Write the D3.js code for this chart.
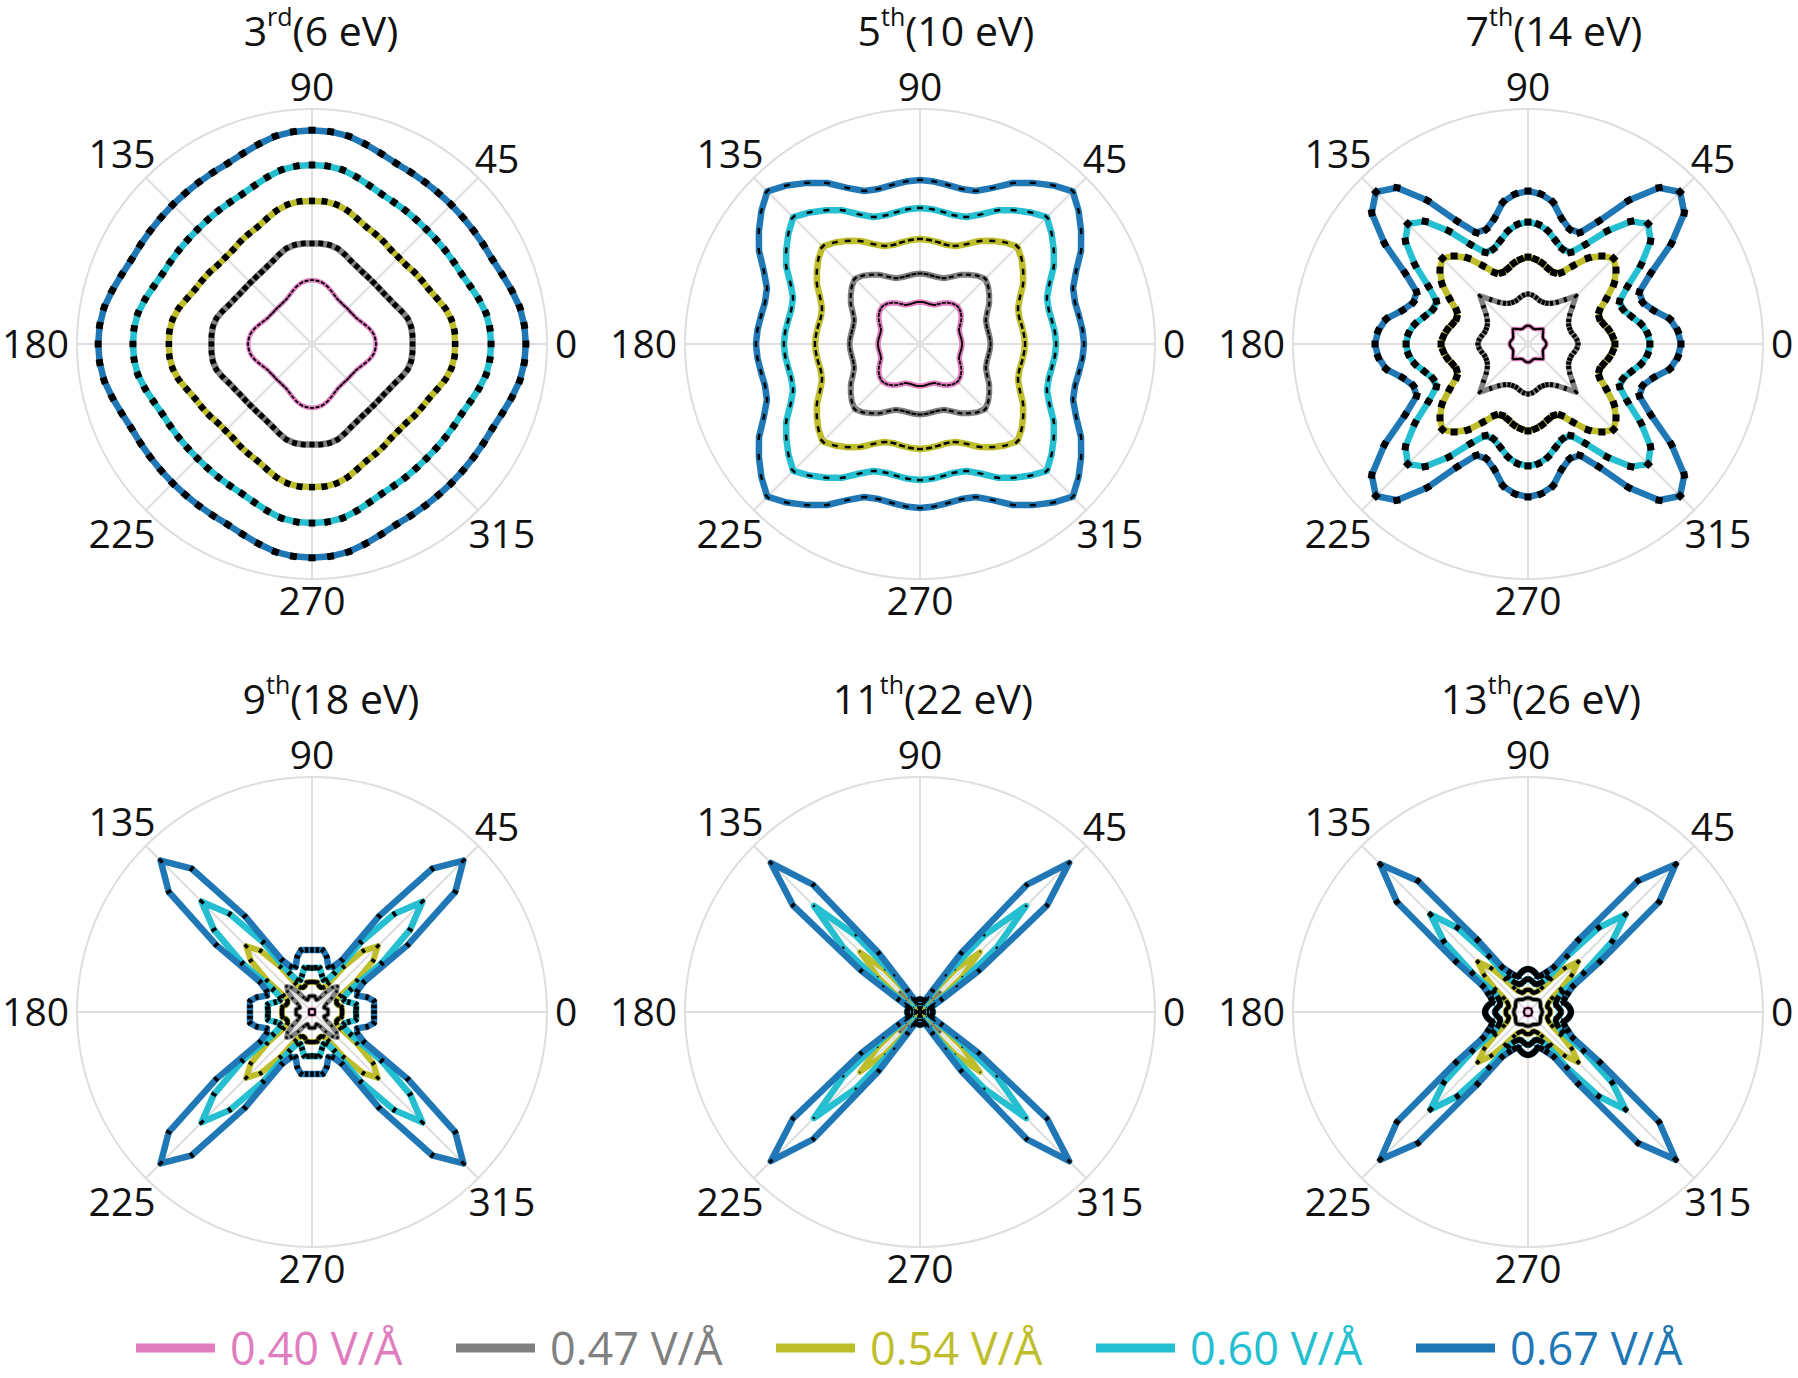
<!DOCTYPE html>
<html><head><meta charset="utf-8">
<script src="https://cdn.jsdelivr.net/npm/d3@7"></script>
<style>
body{margin:0;background:#fff;}
svg{display:block;}
text{font-family:"Open Sans","Noto Sans",sans-serif;}
</style>
</head><body>
<svg id="chart" width="1798" height="1378"></svg>
<script>
// ---------------- DATA ----------------
const angleTicks = [0, 45, 90, 135, 180, 225, 270, 315];
const anglesDeg = [0,5,10,15,20,25,30,35,40,45,50,55,60,65,70,75,80,85,
  90,95,100,105,110,115,120,125,130,135,140,145,150,155,160,165,170,175,
  180,185,190,195,200,205,210,215,220,225,230,235,240,245,250,255,260,265,
  270,275,280,285,290,295,300,305,310,315,320,325,330,335,340,345,350,355];
const fieldLabels = ["0.40 V/Å", "0.47 V/Å", "0.54 V/Å", "0.60 V/Å", "0.67 V/Å"];
const harmonicOrders = ["3", "5", "7", "9", "11", "13"];
const harmonicSuffixes = ["rd", "th", "th", "th", "th", "th"];
const photonEnergies = ["6 eV", "10 eV", "14 eV", "18 eV", "22 eV", "26 eV"];

// 3rd harmonic (6 eV)
const h03_f040 = [.272,.270,.264,.253,.240,.228,.219,.215,.213,.213,.213,.215,.219,.228,.240,.253,.264,.270,
 .272,.270,.264,.253,.240,.228,.219,.215,.213,.213,.213,.215,.219,.228,.240,.253,.264,.270,
 .272,.270,.264,.253,.240,.228,.219,.215,.213,.213,.213,.215,.219,.228,.240,.253,.264,.270,
 .272,.270,.264,.253,.240,.228,.219,.215,.213,.213,.213,.215,.219,.228,.240,.253,.264,.270];
const h03_f047 = [.428,.429,.428,.421,.406,.391,.381,.374,.371,.370,.371,.374,.381,.391,.406,.421,.428,.429,
 .428,.429,.428,.421,.406,.391,.381,.374,.371,.370,.371,.374,.381,.391,.406,.421,.428,.429,
 .428,.429,.428,.421,.406,.391,.381,.374,.371,.370,.371,.374,.381,.391,.406,.421,.428,.429,
 .428,.429,.428,.421,.406,.391,.381,.374,.371,.370,.371,.374,.381,.391,.406,.421,.428,.429];
const h03_f054 = [.609,.609,.602,.587,.566,.549,.540,.532,.523,.521,.523,.532,.540,.549,.566,.587,.602,.609,
 .609,.609,.602,.587,.566,.549,.540,.532,.523,.521,.523,.532,.540,.549,.566,.587,.602,.609,
 .609,.609,.602,.587,.566,.549,.540,.532,.523,.521,.523,.532,.540,.549,.566,.587,.602,.609,
 .609,.609,.602,.587,.566,.549,.540,.532,.523,.521,.523,.532,.540,.549,.566,.587,.602,.609];
const h03_f060 = [.762,.760,.752,.735,.717,.703,.697,.693,.690,.689,.690,.693,.697,.703,.717,.735,.752,.760,
 .762,.760,.752,.735,.717,.703,.697,.693,.690,.689,.690,.693,.697,.703,.717,.735,.752,.760,
 .762,.760,.752,.735,.717,.703,.697,.693,.690,.689,.690,.693,.697,.703,.717,.735,.752,.760,
 .762,.760,.752,.735,.717,.703,.697,.693,.690,.689,.690,.693,.697,.703,.717,.735,.752,.760];
const h03_f067 = [.910,.907,.898,.880,.862,.848,.843,.840,.838,.838,.838,.840,.843,.848,.862,.880,.898,.907,
 .910,.907,.898,.880,.862,.848,.843,.840,.838,.838,.838,.840,.843,.848,.862,.880,.898,.907,
 .910,.907,.898,.880,.862,.848,.843,.840,.838,.838,.838,.840,.843,.848,.862,.880,.898,.907,
 .910,.907,.898,.880,.862,.848,.843,.840,.838,.838,.838,.840,.843,.848,.862,.880,.898,.907];

// 5th harmonic (10 eV)
const h05_f040 = [.179,.178,.176,.175,.177,.188,.202,.214,.222,.226,.222,.214,.202,.188,.177,.175,.176,.178,
 .179,.178,.176,.175,.177,.188,.202,.214,.222,.226,.222,.214,.202,.188,.177,.175,.176,.178,
 .179,.178,.176,.175,.177,.188,.202,.214,.222,.226,.222,.214,.202,.188,.177,.175,.176,.178,
 .179,.178,.176,.175,.177,.188,.202,.214,.222,.226,.222,.214,.202,.188,.177,.175,.176,.178];
const h05_f047 = [.300,.298,.295,.294,.298,.315,.340,.360,.379,.392,.379,.360,.340,.315,.298,.294,.295,.298,
 .300,.298,.295,.294,.298,.315,.340,.360,.379,.392,.379,.360,.340,.315,.298,.294,.295,.298,
 .300,.298,.295,.294,.298,.315,.340,.360,.379,.392,.379,.360,.340,.315,.298,.294,.295,.298,
 .300,.298,.295,.294,.298,.315,.340,.360,.379,.392,.379,.360,.340,.315,.298,.294,.295,.298];
const h05_f054 = [.447,.444,.440,.437,.444,.469,.506,.536,.564,.586,.564,.536,.506,.469,.444,.437,.440,.444,
 .447,.444,.440,.437,.444,.469,.506,.536,.564,.586,.564,.536,.506,.469,.444,.437,.440,.444,
 .447,.444,.440,.437,.444,.469,.506,.536,.564,.586,.564,.536,.506,.469,.444,.437,.440,.444,
 .447,.444,.440,.437,.444,.469,.506,.536,.564,.586,.564,.536,.506,.469,.444,.437,.440,.444];
const h05_f060 = [.579,.576,.570,.567,.575,.608,.657,.695,.731,.763,.731,.695,.657,.608,.575,.567,.570,.576,
 .579,.576,.570,.567,.575,.608,.657,.695,.731,.763,.731,.695,.657,.608,.575,.567,.570,.576,
 .579,.576,.570,.567,.575,.608,.657,.695,.731,.763,.731,.695,.657,.608,.575,.567,.570,.576,
 .579,.576,.570,.567,.575,.608,.657,.695,.731,.763,.731,.695,.657,.608,.575,.567,.570,.576];
const h05_f067 = [.698,.694,.687,.683,.693,.733,.791,.837,.881,.919,.881,.837,.791,.733,.693,.683,.687,.694,
 .698,.694,.687,.683,.693,.733,.791,.837,.881,.919,.881,.837,.791,.733,.693,.683,.687,.694,
 .698,.694,.687,.683,.693,.733,.791,.837,.881,.919,.881,.837,.791,.733,.693,.683,.687,.694,
 .698,.694,.687,.683,.693,.733,.791,.837,.881,.919,.881,.837,.791,.733,.693,.683,.687,.694];

// 7th harmonic (14 eV)
const h07_f040 = [.078,.077,.074,.071,.069,.070,.073,.078,.084,.090,.084,.078,.073,.070,.069,.071,.074,.077,
 .078,.077,.074,.071,.069,.070,.073,.078,.084,.090,.084,.078,.073,.070,.069,.071,.074,.077,
 .078,.077,.074,.071,.069,.070,.073,.078,.084,.090,.084,.078,.073,.070,.069,.071,.074,.077,
 .078,.077,.074,.071,.069,.070,.073,.078,.084,.090,.084,.078,.073,.070,.069,.071,.074,.077];
const h07_f047 = [.213,.209,.200,.191,.189,.191,.200,.217,.247,.289,.247,.217,.200,.191,.189,.191,.200,.209,
 .213,.209,.200,.191,.189,.191,.200,.217,.247,.289,.247,.217,.200,.191,.189,.191,.200,.209,
 .213,.209,.200,.191,.189,.191,.200,.217,.247,.289,.247,.217,.200,.191,.189,.191,.200,.209,
 .213,.209,.200,.191,.189,.191,.200,.217,.247,.289,.247,.217,.200,.191,.189,.191,.200,.209];
const h07_f054 = [.370,.362,.349,.332,.323,.335,.385,.447,.489,.515,.489,.447,.385,.335,.323,.332,.349,.362,
 .370,.362,.349,.332,.323,.335,.385,.447,.489,.515,.489,.447,.385,.335,.323,.332,.349,.362,
 .370,.362,.349,.332,.323,.335,.385,.447,.489,.515,.489,.447,.385,.335,.323,.332,.349,.362,
 .370,.362,.349,.332,.323,.335,.385,.447,.489,.515,.489,.447,.385,.335,.323,.332,.349,.362];
const h07_f060 = [.519,.511,.489,.455,.430,.430,.489,.587,.681,.723,.681,.587,.489,.430,.430,.455,.489,.511,
 .519,.511,.489,.455,.430,.430,.489,.587,.681,.723,.681,.587,.489,.430,.430,.455,.489,.511,
 .519,.511,.489,.455,.430,.430,.489,.587,.681,.723,.681,.587,.489,.430,.430,.455,.489,.511,
 .519,.511,.489,.455,.430,.430,.489,.587,.681,.723,.681,.587,.489,.430,.430,.455,.489,.511];
const h07_f067 = [.651,.640,.613,.553,.519,.523,.604,.745,.868,.915,.868,.745,.604,.523,.519,.553,.613,.640,
 .651,.640,.613,.553,.519,.523,.604,.745,.868,.915,.868,.745,.604,.523,.519,.553,.613,.640,
 .651,.640,.613,.553,.519,.523,.604,.745,.868,.915,.868,.745,.604,.523,.519,.553,.613,.640,
 .651,.640,.613,.553,.519,.523,.604,.745,.868,.915,.868,.745,.604,.523,.519,.553,.613,.640];

// 9th harmonic (18 eV)
const h09_f040 = [.014,.014,.014,.013,.013,.013,.014,.015,.016,.017,.016,.015,.014,.013,.013,.013,.014,.014,
 .014,.014,.014,.013,.013,.013,.014,.015,.016,.017,.016,.015,.014,.013,.013,.013,.014,.014,
 .014,.014,.014,.013,.013,.013,.014,.015,.016,.017,.016,.015,.014,.013,.013,.013,.014,.014,
 .014,.014,.014,.013,.013,.013,.014,.015,.016,.017,.016,.015,.014,.013,.013,.013,.014,.014];
const h09_f047 = [.068,.068,.068,.060,.055,.060,.072,.102,.136,.153,.136,.102,.072,.060,.055,.060,.068,.068,
 .068,.068,.068,.060,.055,.060,.072,.102,.136,.153,.136,.102,.072,.060,.055,.060,.068,.068,
 .068,.068,.068,.060,.055,.060,.072,.102,.136,.153,.136,.102,.072,.060,.055,.060,.068,.068,
 .068,.068,.068,.060,.055,.060,.072,.102,.136,.153,.136,.102,.072,.060,.055,.060,.068,.068];
const h09_f054 = [.128,.128,.128,.115,.111,.115,.140,.234,.340,.396,.340,.234,.140,.115,.111,.115,.128,.128,
 .128,.128,.128,.115,.111,.115,.140,.234,.340,.396,.340,.234,.140,.115,.111,.115,.128,.128,
 .128,.128,.128,.115,.111,.115,.140,.234,.340,.396,.340,.234,.140,.115,.111,.115,.128,.128,
 .128,.128,.128,.115,.111,.115,.140,.234,.340,.396,.340,.234,.140,.115,.111,.115,.128,.128];
const h09_f060 = [.187,.189,.191,.162,.145,.149,.191,.362,.545,.664,.545,.362,.191,.149,.145,.162,.191,.189,
 .187,.189,.191,.162,.145,.149,.191,.362,.545,.664,.545,.362,.191,.149,.145,.162,.191,.189,
 .187,.189,.191,.162,.145,.149,.191,.362,.545,.664,.545,.362,.191,.149,.145,.162,.191,.189,
 .187,.189,.191,.162,.145,.149,.191,.362,.545,.664,.545,.362,.191,.149,.145,.162,.191,.189];
const h09_f067 = [.264,.265,.268,.243,.204,.213,.255,.498,.796,.911,.796,.498,.255,.213,.204,.243,.268,.265,
 .264,.265,.268,.243,.204,.213,.255,.498,.796,.911,.796,.498,.255,.213,.204,.243,.268,.265,
 .264,.265,.268,.243,.204,.213,.255,.498,.796,.911,.796,.498,.255,.213,.204,.243,.268,.265,
 .264,.265,.268,.243,.204,.213,.255,.498,.796,.911,.796,.498,.255,.213,.204,.243,.268,.265];

// 11th harmonic (22 eV)
const h11_f040 = [.006,.006,.006,.006,.006,.006,.006,.007,.008,.009,.008,.007,.006,.006,.006,.006,.006,.006,
 .006,.006,.006,.006,.006,.006,.006,.007,.008,.009,.008,.007,.006,.006,.006,.006,.006,.006,
 .006,.006,.006,.006,.006,.006,.006,.007,.008,.009,.008,.007,.006,.006,.006,.006,.006,.006,
 .006,.006,.006,.006,.006,.006,.006,.007,.008,.009,.008,.007,.006,.006,.006,.006,.006,.006];
const h11_f047 = [.013,.013,.013,.013,.013,.015,.017,.034,.077,.119,.077,.034,.017,.015,.013,.013,.013,.013,
 .013,.013,.013,.013,.013,.015,.017,.034,.077,.119,.077,.034,.017,.015,.013,.013,.013,.013,
 .013,.013,.013,.013,.013,.015,.017,.034,.077,.119,.077,.034,.017,.015,.013,.013,.013,.013,
 .013,.013,.013,.013,.013,.015,.017,.034,.077,.119,.077,.034,.017,.015,.013,.013,.013,.013];
const h11_f054 = [.021,.021,.021,.021,.021,.026,.043,.106,.234,.362,.234,.106,.043,.026,.021,.021,.021,.021,
 .021,.021,.021,.021,.021,.026,.043,.106,.234,.362,.234,.106,.043,.026,.021,.021,.021,.021,
 .021,.021,.021,.021,.021,.026,.043,.106,.234,.362,.234,.106,.043,.026,.021,.021,.021,.021,
 .021,.021,.021,.021,.021,.026,.043,.106,.234,.362,.234,.106,.043,.026,.021,.021,.021,.021];
const h11_f060 = [.034,.034,.034,.034,.036,.043,.072,.191,.426,.638,.426,.191,.072,.043,.036,.034,.034,.034,
 .034,.034,.034,.034,.036,.043,.072,.191,.426,.638,.426,.191,.072,.043,.036,.034,.034,.034,
 .034,.034,.034,.034,.036,.043,.072,.191,.426,.638,.426,.191,.072,.043,.036,.034,.034,.034,
 .034,.034,.034,.034,.036,.043,.072,.191,.426,.638,.426,.191,.072,.043,.036,.034,.034,.034];
const h11_f067 = [.055,.055,.053,.051,.051,.060,.106,.306,.706,.898,.706,.306,.106,.060,.051,.051,.053,.055,
 .055,.055,.053,.051,.051,.060,.106,.306,.706,.898,.706,.306,.106,.060,.051,.051,.053,.055,
 .055,.055,.053,.051,.051,.060,.106,.306,.706,.898,.706,.306,.106,.060,.051,.051,.053,.055,
 .055,.055,.053,.051,.051,.060,.106,.306,.706,.898,.706,.306,.106,.060,.051,.051,.053,.055];

// 13th harmonic (26 eV)
const h13_f040 = [.017,.017,.017,.017,.017,.017,.017,.018,.019,.020,.019,.018,.017,.017,.017,.017,.017,.017,
 .017,.017,.017,.017,.017,.017,.017,.018,.019,.020,.019,.018,.017,.017,.017,.017,.017,.017,
 .017,.017,.017,.017,.017,.017,.017,.018,.019,.020,.019,.018,.017,.017,.017,.017,.017,.017,
 .017,.017,.017,.017,.017,.017,.017,.018,.019,.020,.019,.018,.017,.017,.017,.017,.017,.017];
const h13_f047 = [.060,.060,.059,.058,.058,.059,.061,.064,.067,.069,.067,.064,.061,.059,.058,.058,.059,.060,
 .060,.060,.059,.058,.058,.059,.061,.064,.067,.069,.067,.064,.061,.059,.058,.058,.059,.060,
 .060,.060,.059,.058,.058,.059,.061,.064,.067,.069,.067,.064,.061,.059,.058,.058,.059,.060,
 .060,.060,.059,.058,.058,.059,.061,.064,.067,.069,.067,.064,.061,.059,.058,.058,.059,.060];
const h13_f054 = [.094,.094,.089,.085,.089,.098,.119,.170,.243,.302,.243,.170,.119,.098,.089,.085,.089,.094,
 .094,.094,.089,.085,.089,.098,.119,.170,.243,.302,.243,.170,.119,.098,.089,.085,.089,.094,
 .094,.094,.089,.085,.089,.098,.119,.170,.243,.302,.243,.170,.119,.098,.089,.085,.089,.094,
 .094,.094,.089,.085,.089,.098,.119,.170,.243,.302,.243,.170,.119,.098,.089,.085,.089,.094];
const h13_f060 = [.140,.136,.128,.123,.128,.140,.170,.289,.468,.587,.468,.289,.170,.140,.128,.123,.128,.136,
 .140,.136,.128,.123,.128,.140,.170,.289,.468,.587,.468,.289,.170,.140,.128,.123,.128,.136,
 .140,.136,.128,.123,.128,.140,.170,.289,.468,.587,.468,.289,.170,.140,.128,.123,.128,.136,
 .140,.136,.128,.123,.128,.140,.170,.289,.468,.587,.468,.289,.170,.140,.128,.123,.128,.136];
const h13_f067 = [.183,.179,.170,.157,.166,.187,.221,.374,.728,.889,.728,.374,.221,.187,.166,.157,.170,.179,
 .183,.179,.170,.157,.166,.187,.221,.374,.728,.889,.728,.374,.221,.187,.166,.157,.170,.179,
 .183,.179,.170,.157,.166,.187,.221,.374,.728,.889,.728,.374,.221,.187,.166,.157,.170,.179,
 .183,.179,.170,.157,.166,.187,.221,.374,.728,.889,.728,.374,.221,.187,.166,.157,.170,.179];

const panelSeries = [
  [h03_f040, h03_f047, h03_f054, h03_f060, h03_f067],
  [h05_f040, h05_f047, h05_f054, h05_f060, h05_f067],
  [h07_f040, h07_f047, h07_f054, h07_f060, h07_f067],
  [h09_f040, h09_f047, h09_f054, h09_f060, h09_f067],
  [h11_f040, h11_f047, h11_f054, h11_f060, h11_f067],
  [h13_f040, h13_f047, h13_f054, h13_f060, h13_f067]
];

// ---------------- STYLE / LAYOUT ----------------
const colors = ["#e07dbf", "#808080", "#bebe2c", "#24bfd0", "#1f78b5"];
const gridColor = "#dedede";
const R = 235;
const colX = [312, 920, 1528];
const rowY = [344, 1012];
const titleShift = [9, 26, 26, 19, 13, 13];
// black overlay marks (width across line, length along line) per panel and series
const markW = [[1.8,5.5,6.5,7,7],[1.8,2.2,2.5,2.5,2.5],[2,5,7,7,7],[1.2,2.5,4.5,5.5,5.5],[0.6,1,1.3,2,4.5],[1.2,2.5,4,5.5,6]];
const markL = [[4,5,6,6.5,7],[4,5,6,6,6],[3,3,7,7,7],[1.5,2.5,3.5,3.5,3.5],[1,1.5,1.5,2.5,3.5],[1.5,3,4,5,5]];
const lineW = [[4.5,6.5,6.5,6.5,6.5],[5.5,6,6.5,6.5,6.5],[4.5,5.5,6.5,6.5,6.5],[3.5,5,6,6.5,6.5],[3,4,5.5,6.5,6.5],[3.5,5,6,6.5,6.5]];

const svg = d3.select("#chart");
const rScale = d3.scaleLinear().domain([0, 1]).range([0, R]);
const aScale = d3.scaleLinear().domain([0, 360]).range([Math.PI / 2, Math.PI / 2 - 2 * Math.PI]);
const lineRadial = d3.lineRadial()
  .angle(d => aScale(d.a))
  .radius(d => rScale(d.r))
  .curve(d3.curveLinearClosed);
const toXY = d => {
  const t = aScale(d.a); // d3 radial angle, clockwise from north
  return [rScale(d.r) * Math.sin(t), -rScale(d.r) * Math.cos(t)];
};

const tickFont = 39;

panelSeries.forEach((seriesList, p) => {
  const cx = colX[p % 3], cy = rowY[Math.floor(p / 3)];
  const g = svg.append("g").attr("transform", `translate(${cx},${cy})`);

  // grid
  g.append("circle").attr("r", rScale(1)).attr("fill", "none")
    .attr("stroke", gridColor).attr("stroke-width", 2);
  g.selectAll("line.spoke").data(angleTicks).enter().append("line")
    .attr("class", "spoke")
    .attr("x1", 0).attr("y1", 0)
    .attr("x2", d => toXY({a: d, r: 1})[0])
    .attr("y2", d => toXY({a: d, r: 1})[1])
    .attr("stroke", gridColor).attr("stroke-width", 2);

  // tick labels
  angleTicks.forEach(t => {
    const txt = g.append("text").attr("font-size", tickFont).attr("fill", "#111")
      .attr("text-anchor", "middle").text(t);
    const w = txt.node().getComputedTextLength();
    const h = 0.714 * tickFont;
    const rad = t * Math.PI / 180;
    const ext = Math.sqrt(Math.pow(Math.cos(rad) * w / 2, 2) + Math.pow(Math.sin(rad) * h / 2, 2));
    const dist = rScale(1) + 8 + ext;
    const x = dist * Math.cos(rad), y = -dist * Math.sin(rad);
    txt.attr("x", x).attr("y", y + h / 2);
  });

  // title
  const title = svg.append("text")
    .attr("x", cx + titleShift[p]).attr("y", cy - 298)
    .attr("text-anchor", "middle").attr("font-size", 41).attr("fill", "#111");
  title.append("tspan").text(harmonicOrders[p]);
  title.append("tspan").attr("font-size", 25).attr("dy", -20).text(harmonicSuffixes[p]);
  title.append("tspan").attr("dy", 20).text("(" + photonEnergies[p] + ")");

  // series lines
  const seriesData = seriesList.map(vals => vals.map((v, i) => ({a: anglesDeg[i], r: v})));
  seriesData.forEach((pts, s) => {
    g.append("path").datum(pts)
      .attr("d", lineRadial)
      .attr("fill", "none")
      .attr("stroke", colors[s])
      .attr("stroke-width", lineW[p][s])
      .attr("stroke-linejoin", "round");
  });
  // black overlay marks at each sample, oriented along the curve
  seriesData.forEach((pts, s) => {
    const n = pts.length;
    const xy = pts.map(toXY);
    const marks = xy.map((q, i) => {
      const a = xy[(i - 1 + n) % n], b = xy[(i + 1) % n];
      let dx = b[0] - a[0], dy = b[1] - a[1];
      const len = Math.hypot(dx, dy) || 1;
      dx /= len; dy /= len;
      const L = markL[p][s] / 2;
      return [q[0] - dx * L, q[1] - dy * L, q[0] + dx * L, q[1] + dy * L];
    });
    g.selectAll(null).data(marks).enter().append("line")
      .attr("x1", d => d[0]).attr("y1", d => d[1])
      .attr("x2", d => d[2]).attr("y2", d => d[3])
      .attr("stroke", "#000")
      .attr("stroke-width", markW[p][s])
      .attr("stroke-linecap", "butt");
  });
});

// legend
const legend = svg.append("g");
fieldLabels.forEach((lab, i) => {
  const x0 = 136 + i * 320;
  legend.append("line").attr("x1", x0).attr("x2", x0 + 79)
    .attr("y1", 1348).attr("y2", 1348)
    .attr("stroke", colors[i]).attr("stroke-width", 9);
  legend.append("text").attr("x", x0 + 94).attr("y", 1365)
    .attr("font-size", 45).attr("fill", colors[i]).text(lab);
});
</script>
</body></html>
